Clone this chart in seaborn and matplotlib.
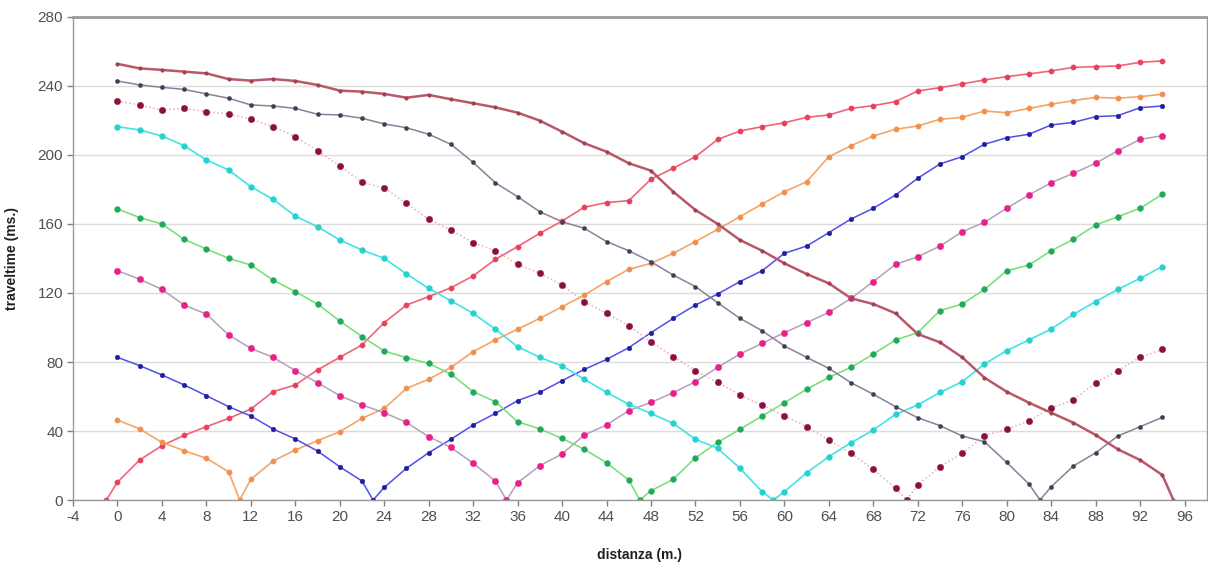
import numpy as np
import pandas as pd
import matplotlib
matplotlib.use("Agg")
import matplotlib.pyplot as plt
import seaborn as sns

# geophone positions (m) and shot positions
geophones = list(range(0, 96, 2))
shots = [-1, 11, 23, 35, 47, 59, 71, 83, 95]

# travel times (ms) read at geophones 0,2,...,94 for each shot
t_shot_m1 = [10.3, 23.2, 31.5, 37.5, 42.5, 47.3, 52.7, 62.8, 66.7, 75.4, 82.7, 89.9,
             102.8, 113, 117.9, 123, 129.9, 139.5, 146.9, 154.6, 161.7, 169.7, 172.4, 173.5,
             186, 192.3, 199, 209, 213.9, 216.4, 218.7, 221.8, 223.2, 227, 228.6, 230.9,
             237.1, 239, 241.2, 243.5, 245.4, 247, 248.7, 250.8, 251.2, 251.6, 253.7, 254.5]
t_shot_11 = [46.4, 41.2, 33.4, 28.6, 24.2, 16.4, 12, 22.6, 29, 34.4, 39.6, 47.3,
             53.1, 64.7, 70, 76.9, 86, 92.8, 99, 105.3, 112, 118.8, 126.6, 133.7,
             137.2, 143, 149.8, 156.9, 164.2, 171.6, 178.7, 184.5, 199, 205.4, 211, 214.9,
             216.8, 220.7, 221.8, 225.5, 224.5, 227, 229.4, 231.5, 233.4, 232.9, 233.8, 235.2]
t_shot_23 = [82.7, 77.9, 72.5, 66.7, 60.5, 54.1, 48.7, 41.2, 35.4, 28.4, 19.3, 11,
             7.3, 18.4, 27.4, 35.2, 43.5, 50.2, 57.6, 62.4, 69.2, 75.7, 81.5, 88.3,
             97, 105.3, 113, 119.4, 126.6, 132.9, 143, 147.2, 155, 162.9, 169.1, 176.8,
             186.5, 194.8, 199, 206.2, 210, 212, 217.4, 218.9, 222.2, 222.8, 227.4, 228.4]
t_shot_35 = [132.9, 128, 122.1, 113, 107.8, 95.7, 87.9, 82.7, 75, 68, 60.5, 55.1,
             50.6, 45, 36.7, 30.5, 21.3, 11, 10, 19.9, 26.7, 37.7, 43.5, 51.8,
             56.6, 62.2, 68.6, 76.9, 84.6, 90.8, 97, 102.8, 108.8, 116.9, 126.6, 136.6,
             141, 147.2, 155.5, 161, 169.1, 176.8, 183.9, 189.4, 195.2, 202.5, 209, 211.2]
t_shot_47 = [168.7, 163.7, 160, 151.1, 145.5, 140.1, 136.2, 127.5, 120.8, 113.6, 103.8, 94.7,
             86.4, 82.5, 79.2, 73, 62.8, 57, 45.4, 41.2, 35.7, 29.4, 21.6, 11.6,
             5.4, 12, 24.5, 33.4, 41, 48.7, 56.4, 64.2, 71.1, 76.9, 84.6, 92.8,
             97, 109.8, 113.6, 122.1, 132.9, 136.2, 144.5, 151.1, 159.4, 164.2, 169.1, 177.2]
t_shot_59 = [216.4, 214.5, 211, 205.4, 197.1, 191.3, 181.6, 174.3, 164.6, 158.4, 150.7, 144.9,
             140.1, 131, 122.7, 115.5, 108.2, 99, 88.9, 82.7, 77.7, 70, 62.4, 55.5,
             50.2, 44.4, 35.2, 30, 18.4, 4.8, 4.8, 15.8, 25.1, 33.2, 40.6, 49.7,
             55.1, 62.4, 68.6, 78.8, 86.6, 92.8, 99.1, 107.6, 115, 122.1, 128.5, 135.3]
t_shot_71 = [231.3, 229, 226.1, 227, 225.1, 223.8, 220.7, 216.4, 210.6, 202.5, 193.6, 184.2,
             180.7, 172, 162.7, 156.5, 149.2, 144.5, 136.6, 131.4, 124.6, 115, 108.2, 101,
             91.8, 83.1, 75, 68.2, 60.9, 55.1, 48.7, 42.5, 34.8, 27.1, 17.8, 6.8,
             8.7, 19.3, 27.1, 37.3, 41, 45.8, 53.5, 58, 68, 75, 82.7, 87.3]
t_shot_83 = [242.9, 240.6, 239.2, 238, 235.4, 232.9, 229, 228.4, 227, 223.6, 223.2, 221.3,
             218, 215.8, 212, 206.2, 195.7, 183.9, 175.8, 167.1, 161.3, 157.5, 149.8, 144.5,
             138.1, 130.4, 123.7, 114.4, 105.3, 98.1, 89.3, 82.7, 76.3, 68, 61.3, 54.1,
             47.7, 43.1, 37.1, 33.8, 21.8, 9.3, 7.7, 19.7, 27.4, 37.1, 42.5, 47.9]
t_shot_95 = [252.8, 250.2, 249.3, 248.3, 247.3, 244, 243.1, 244, 242.9, 240.6, 237.3, 236.7,
             235.4, 233.2, 234.8, 232.3, 230, 227.6, 224.5, 219.9, 213.5, 206.8, 201.9, 195.2,
             190.9, 178.7, 168.1, 160, 150.7, 144.5, 137.2, 131, 125.6, 116.9, 113.6, 108.2,
             96.2, 91.4, 82.7, 70.9, 62.8, 56.4, 50.6, 44.8, 37.7, 29.4, 23.2, 14.5]

series = [t_shot_m1, t_shot_11, t_shot_23, t_shot_35, t_shot_47,
          t_shot_59, t_shot_71, t_shot_83, t_shot_95]

x_ticks = list(range(-4, 97, 4))
y_ticks = list(range(0, 281, 40))

styles = [
    dict(color="#f0647a", mfc="#e8405a", ls="-", lw=1.2, ms=3.8),
    dict(color="#f5a566", mfc="#f09050", ls="-", lw=1.2, ms=3.8),
    dict(color="#5050e8", mfc="#20209a", ls="-", lw=1.1, ms=3.4),
    dict(color="#b4a0b8", mfc="#e8208c", ls="-", lw=1.1, ms=4.6),
    dict(color="#70e070", mfc="#22a85a", ls="-", lw=1.1, ms=4.2),
    dict(color="#40e4e4", mfc="#28d0d0", ls="-", lw=1.2, ms=4.2),
    dict(color="#f0a8b8", mfc="#8a1040", ls=":", lw=1.1, ms=4.6),
    dict(color="#8a8098", mfc="#404050", ls="-", lw=1.1, ms=3.0),
    dict(color="#b85868", mfc="#a04050", ls="-", lw=1.8, ms=2.6),
]

sns.set_theme(style="white")
plt.rcParams['font.family'] = ['Liberation Sans', 'DejaVu Sans']
plt.rcParams['axes.unicode_minus'] = False

fig = plt.figure(figsize=(12.08, 5.65), dpi=100)
ax = fig.add_axes([0.0604, 0.115, 0.9386, 0.855])

for shot, times, st in zip(shots, series, styles):
    xs = list(geophones) + [shot]
    ys = list(times) + [0]
    df = pd.DataFrame({"x": xs, "y": ys}).sort_values("x")
    sns.lineplot(data=df, x="x", y="y", ax=ax, sort=True, estimator=None,
                 color=st["color"], linestyle=st["ls"], linewidth=st["lw"],
                 marker="o", markersize=st["ms"], markerfacecolor=st["mfc"],
                 markeredgecolor=st["mfc"], markeredgewidth=0.3)

ax.set_xlim(-4, 98)
ax.set_ylim(0, 280)
ax.set_xticks(x_ticks)
ax.set_yticks(y_ticks)
ax.yaxis.grid(True, color="#dcdcdc", linewidth=1.0)
ax.xaxis.grid(False)
ax.set_axisbelow(True)
for s in ax.spines.values():
    s.set_color("#9a9a9a")
    s.set_linewidth(1.0)
ax.spines["top"].set_linewidth(2.0)
ax.tick_params(axis="both", which="both", direction="out", length=4, width=1,
               color="#808080", labelsize=11, labelcolor="#505050", pad=3,
               bottom=True, left=True)
ax.set_xlabel("distanza (m.)", fontsize=10, fontweight="bold", color="#202020")
ax.set_ylabel("traveltime (ms.)", fontsize=10, fontweight="bold", color="#202020")
ax.yaxis.set_label_coords(-0.048, 0.5)
ax.xaxis.set_label_coords(0.5, -0.100)

fig.savefig("out.png", dpi=100, facecolor="white")
